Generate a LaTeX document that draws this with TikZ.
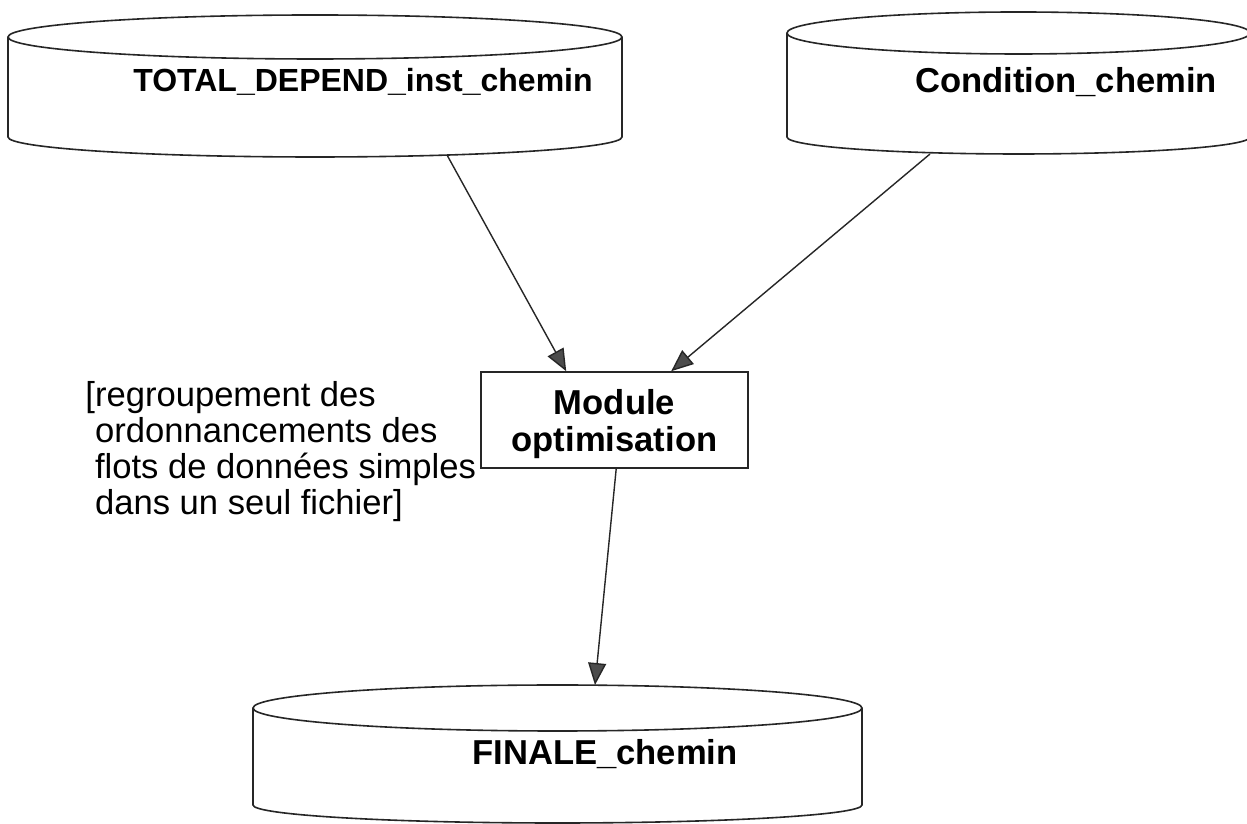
\documentclass[tikz,border=0pt]{standalone}
\usepackage{fontspec}
\setmainfont{Liberation Sans}
\usetikzlibrary{arrows.meta,calc}
\newcommand\dbcyl[6]{% xl, xr, top-centre Y, top ry (pt), side-bottom Y, bottom ry (pt)
  \pgfmathsetmacro\cylcx{(#1+#2)/2}%
  \pgfmathsetmacro\cylrx{(#2-#1)/4}%
  \draw[cylline] (\cylcx,#3) ellipse [x radius=\cylrx pt, y radius=#4pt];
  \draw[cylline] (#1,#3) -- (#1,#5) arc[start angle=180,end angle=360,x radius=\cylrx pt,y radius=#6pt] -- (#2,#3);
}
\begin{document}
\begin{tikzpicture}[x=0.5pt,y=0.5pt,
  cylline/.style={line width=0.8pt,black!85},
  arr/.style={line width=0.7pt,black!85,-{Triangle[length=11pt,width=9pt,fill=black!70]}},
  lbl/.style={font=\fontsize{17.3}{18}\selectfont\bfseries,inner sep=0pt},
  note/.style={font=\fontsize{17.3}{18}\selectfont,align=left,inner sep=0pt},
  modbox/.style={draw,line width=0.8pt,black!85,text=black,minimum width=133.5pt,minimum height=48pt,align=center,
    font=\fontsize{17.3}{18.5}\selectfont\bfseries,inner sep=0pt}]
\clip (0,0) rectangle (1247,824);
\fill[white] (0,0) rectangle (1247,824);

% cylinders
\dbcyl{8}{622}{787}{11}{687}{10}
\dbcyl{787}{1250}{791}{10.5}{687}{8.5}
\dbcyl{253}{862}{116}{11.5}{19}{9}

\node[lbl,font=\fontsize{16}{18}\selectfont\bfseries] (tot) at (363,742) {TOTAL\_DEPEND\_inst\_chemin};
\node[lbl] (cond) at (1066,742) {Condition\_chemin};
\node[lbl] (fin) at (605,70) {FINALE\_chemin};

\coordinate (totout) at (447,669);
\coordinate (condout) at (930,670);
\coordinate (finin) at (595,139);

% module
\node[modbox] (mod) at (614.5,404) {\rule{0pt}{16.5pt}Module\\optimisation};

% note
\node[note,anchor=west] (note) at (85,372) {[regroupement des\\
\hspace*{0.28em}ordonnancements des\\
\hspace*{0.28em}flots de données simples\\
\hspace*{0.28em}dans un seul fichier]};

% connectors
\draw[arr] (totout) -- ($(mod.north west)+(86,0)$);
\draw[arr] (condout) -- ($(mod.north west)+(191,0)$);
\draw[arr] ($(mod.south west)+(136,0)$) -- (finin);
\end{tikzpicture}
\end{document}
